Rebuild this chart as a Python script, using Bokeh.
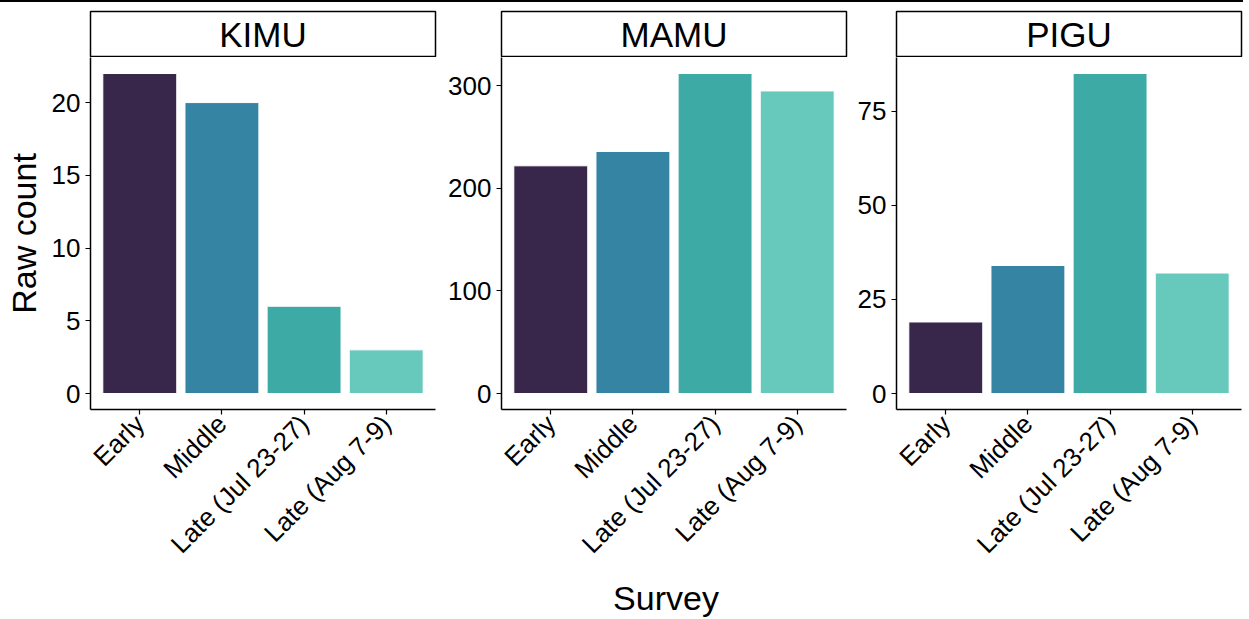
import math

from bokeh.embed import file_html
from bokeh.layouts import column, row
from bokeh.models import ColumnDataSource, FactorRange, FixedTicker, Label, Range1d, Spacer
from bokeh.plotting import figure
from bokeh.resources import INLINE

# Survey periods (x categories) and raw counts per species
surveys = ["Early", "Middle", "Late (Jul 23-27)", "Late (Aug 7-9)"]
species = ["KIMU", "MAMU", "PIGU"]
kimu_counts = [22, 20, 6, 3]
mamu_counts = [222, 236, 312, 295]
pigu_counts = [19, 34, 85, 32]

# Y tick marks for each facet
kimu_ticks = [0, 5, 10, 15, 20]
mamu_ticks = [0, 100, 200, 300]
pigu_ticks = [0, 25, 50, 75]

survey_colors = ["#38274a", "#3584a3", "#3eaaa6", "#67c9bc"]

FONT = "Liberation Sans"
MAIN_H = 518
STRIP_H = 55


def blank(width, height, **borders):
    f = figure(width=width, height=height, x_range=Range1d(0, 1), y_range=Range1d(0, 1),
               output_backend="svg", toolbar_location=None,
               x_axis_location=None, y_axis_location=None, **borders)
    f.grid.grid_line_color = None
    f.outline_line_color = None
    return f


def facet(name, counts, ticks, width, left, right, y_label=None):
    top = max(counts)
    src = ColumnDataSource(dict(survey=surveys, count=counts, color=survey_colors))

    p = figure(
        width=width, height=MAIN_H,
        x_range=FactorRange(factors=surveys, range_padding=0.1, range_padding_units="absolute"),
        y_range=Range1d(-0.05 * top, 1.05 * top),
        output_backend="svg", toolbar_location=None,
        min_border_left=left, min_border_right=right,
        min_border_top=0, min_border_bottom=166,
    )
    p.vbar(x="survey", top="count", width=0.9, fill_color="color",
           line_color="white", line_width=1, source=src)

    p.outline_line_color = None
    p.grid.grid_line_color = None

    for ax in (p.xaxis[0], p.yaxis[0]):
        ax.axis_line_color = "black"
        ax.axis_line_width = 1.5
        ax.major_tick_line_color = "black"
        ax.major_tick_line_width = 1.2
        ax.major_tick_in = 0
        ax.major_tick_out = 5
        ax.minor_tick_line_color = None
        ax.major_label_text_font = FONT
        ax.major_label_text_font_size = "26px"
        ax.major_label_text_color = "black"
        ax.major_label_standoff = 5

    p.yaxis[0].ticker = FixedTicker(ticks=ticks)
    p.xaxis[0].major_label_orientation = math.pi / 4

    if y_label:
        p.yaxis[0].axis_label = y_label
        p.yaxis[0].axis_label_text_font = FONT
        p.yaxis[0].axis_label_text_font_size = "34px"
        p.yaxis[0].axis_label_text_font_style = "normal"
        p.yaxis[0].axis_label_text_color = "black"
        p.yaxis[0].axis_label_standoff = 6

    strip = blank(width, STRIP_H, min_border_left=left, min_border_right=right,
                  min_border_top=9, min_border_bottom=0)
    strip.outline_line_color = "black"
    strip.outline_line_width = 1.5
    strip.add_layout(Label(x=0.5, y=0.5, text=name, text_align="center",
                           text_baseline="middle", text_font=FONT,
                           text_font_size="35px", text_color="black"))
    return column(strip, p, spacing=0)


panel_kimu = facet(species[0], kimu_counts, kimu_ticks, 440, 90, 5, "Raw count")
panel_mamu = facet(species[1], mamu_counts, mamu_ticks, 410, 61, 4)
panel_pigu = facet(species[2], pigu_counts, pigu_ticks, 399, 46, 8)

# thin black rule along the top edge of the page
top_rule = Spacer(width=1243, height=2, styles={"background-color": "black"})

# shared x-axis title
xlab = blank(1249, 44, min_border_left=90, min_border_right=8,
             min_border_top=0, min_border_bottom=0)
xlab.add_layout(Label(x=0.5, y=0.5, text="Survey", text_align="center",
                      text_baseline="middle", text_font=FONT,
                      text_font_size="34px", text_color="black"))

layout = column(top_rule, row(panel_kimu, panel_mamu, panel_pigu, spacing=0), xlab, spacing=0)

with open("out.html", "w") as f:
    f.write(file_html(layout, INLINE))
